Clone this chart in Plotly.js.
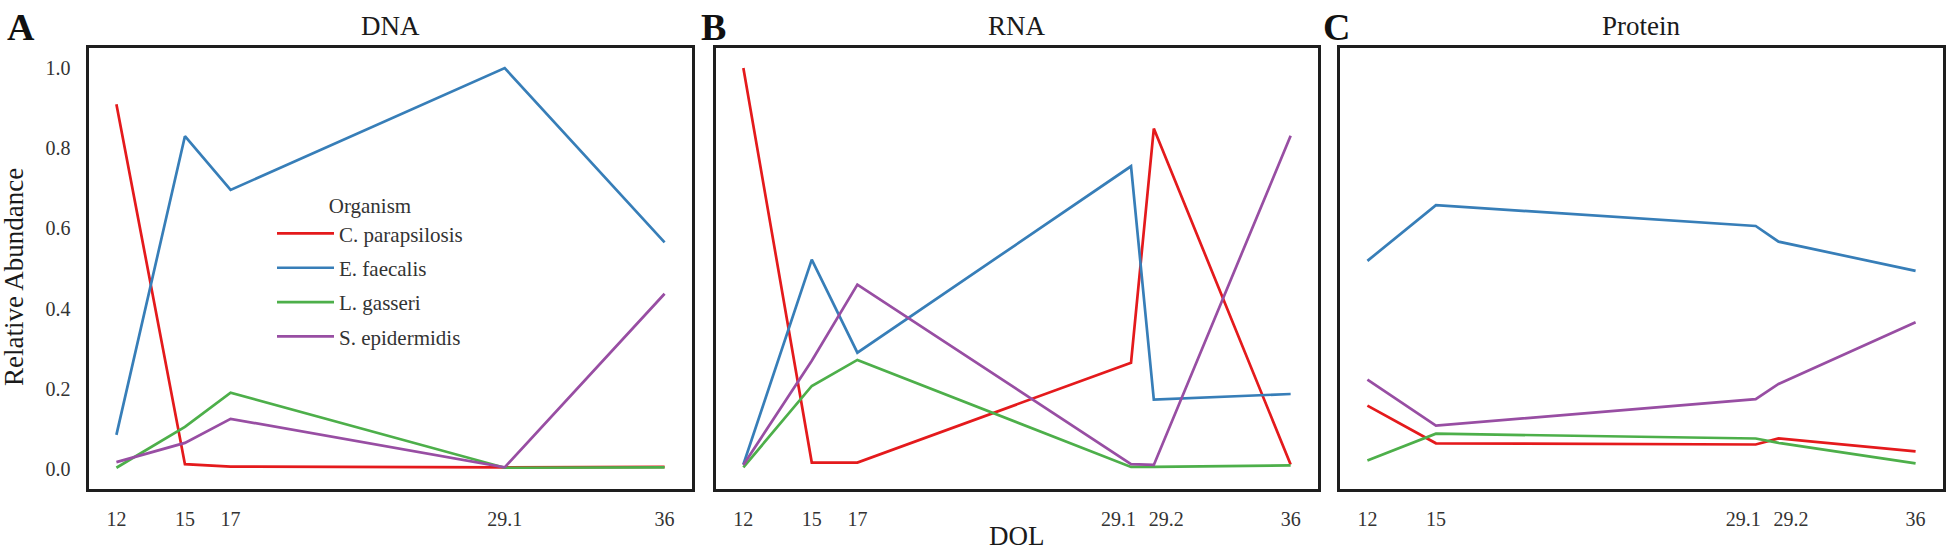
<!DOCTYPE html>
<html>
<head>
<meta charset="utf-8">
<script src="https://cdn.plot.ly/plotly-3.0.1.min.js"></script>
<style>html,body{margin:0;padding:0;background:#fff;}#chart{width:1946px;height:554px;}</style>
</head>
<body>
<div id="chart"></div>
<script>
// ---- data ----
const organisms = ["C. parapsilosis", "E. faecalis", "L. gasseri", "S. epidermidis"];
const colors = ["#e41a1c", "#377eb8", "#4daf4a", "#984ea3"];

// DOL sample labels per panel and their positions along the axis
const NB = "\u00a0\u00a0\u00a0\u00a0\u00a0";
const dnaLabels = ["12", "15", "17", "29.1", "36"];
const dnaPos = [12, 15, 17, 29, 36];
const rnaLabels = ["12", "15", "17", "29.1" + NB, NB + "29.2", "36"];
const rnaPos = [12, 15, 17, 29, 30, 36];
const protLabels = ["12", "15", "29.1" + NB, NB + "29.2", "36"];
const protPos = [12, 15, 29, 30, 36];

// Relative abundance (DNA)
const dnaCpar = [0.91, 0.012, 0.006, 0.004, 0.005];
const dnaEfae = [0.085, 0.83, 0.696, 1.0, 0.565];
const dnaLgas = [0.003, 0.105, 0.19, 0.003, 0.004];
const dnaSepi = [0.017, 0.065, 0.125, 0.004, 0.437];

// Relative abundance (RNA)
const rnaCpar = [1.0, 0.016, 0.016, 0.265, 0.849, 0.011];
const rnaEfae = [0.011, 0.522, 0.29, 0.755, 0.173, 0.187];
const rnaLgas = [0.004, 0.207, 0.272, 0.005, 0.005, 0.009];
const rnaSepi = [0.01, 0.27, 0.46, 0.012, 0.01, 0.831];

// Relative abundance (Protein)
const protCpar = [0.158, 0.064, 0.061, 0.076, 0.044];
const protEfae = [0.519, 0.658, 0.606, 0.567, 0.494];
const protLgas = [0.021, 0.088, 0.076, 0.065, 0.014];
const protSepi = [0.223, 0.108, 0.174, 0.212, 0.366];

const yTicks = [0, 0.2, 0.4, 0.6, 0.8, 1.0];
const yTickText = ["0.0", "0.2", "0.4", "0.6", "0.8", "1.0"];

// ---- build ----
const W = 1946, H = 554;
const px = v => v / W;
const py = v => 1 - v / H;
const FONT = "Liberation Serif";

const panels = [
  {x: dnaPos, series: [dnaCpar, dnaEfae, dnaLgas, dnaSepi], xa: "x", ya: "y"},
  {x: rnaPos, series: [rnaCpar, rnaEfae, rnaLgas, rnaSepi], xa: "x2", ya: "y2"},
  {x: protPos, series: [protCpar, protEfae, protLgas, protSepi], xa: "x3", ya: "y3"}
];

const traces = [];
panels.forEach((p, pi) => {
  p.series.forEach((s, si) => {
    traces.push({
      type: "scatter", mode: "lines",
      x: p.x, y: s, xaxis: p.xa, yaxis: p.ya,
      name: organisms[si], legendgroup: organisms[si],
      showlegend: pi === 0,
      line: {color: colors[si], width: 2.7},
      hoverinfo: "skip"
    });
  });
});

const frame = {showline: true, mirror: true, linecolor: "#1e1e1e", linewidth: 2.6,
  showgrid: false, zeroline: false, ticks: "", fixedrange: true};
const tickFont = {family: FONT, size: 20, color: "#333333"};

function xAxis(dom, pos, labels) {
  return Object.assign({}, frame, {
    domain: dom, range: [10.8, 37.2], tickmode: "array", tickangle: 0,
    tickvals: pos, ticktext: labels, tickfont: tickFont, ticklabelstandoff: 10
  });
}
const yDom = [1 - 489 / H, 1 - 48 / H];
function yAxis(showLabels, anchor) {
  return Object.assign({}, frame, {
    domain: yDom, range: [-0.05, 1.05], anchor: anchor,
    tickmode: "array", tickvals: yTicks, ticktext: yTickText,
    showticklabels: showLabels, tickfont: tickFont, ticklabelstandoff: 12
  });
}

const titleFont = {family: FONT, size: 27, color: "#1a1a1a"};
const letterFont = {family: FONT, size: 38, color: "#111111", weight: "bold"};

const annotations = [
  {text: "<b>A</b>", x: px(5), y: py(4), xanchor: "left", yanchor: "top", font: letterFont},
  {text: "<b>B</b>", x: px(699), y: py(4), xanchor: "left", yanchor: "top", font: letterFont},
  {text: "<b>C</b>", x: px(1321), y: py(4), xanchor: "left", yanchor: "top", font: letterFont},
  {text: "DNA", x: px(390), y: py(26), xanchor: "center", yanchor: "middle", font: titleFont},
  {text: "RNA", x: px(1017), y: py(26), xanchor: "center", yanchor: "middle", font: titleFont},
  {text: "Protein", x: px(1641), y: py(26), xanchor: "center", yanchor: "middle", font: titleFont},
  {text: "DOL", x: px(1017), y: py(553), xanchor: "center", yanchor: "bottom", font: {family: FONT, size: 27, color: "#1a1a1a"}},
  {text: "Relative Abundance", x: px(14), y: py(277), xanchor: "center", yanchor: "middle", textangle: -90,
   font: {family: FONT, size: 27, color: "#1a1a1a"}}
].map(a => Object.assign({xref: "paper", yref: "paper", showarrow: false}, a));

const layout = {
  width: W, height: H,
  margin: {l: 0, r: 0, t: 0, b: 0},
  paper_bgcolor: "#ffffff", plot_bgcolor: "#ffffff",
  font: {family: FONT, color: "#333333"},
  xaxis: xAxis([89 / W, 692 / W], dnaPos, dnaLabels),
  xaxis2: xAxis([716 / W, 1318 / W], rnaPos, rnaLabels),
  xaxis3: xAxis([1340 / W, 1943 / W], protPos, protLabels),
  yaxis: yAxis(true, "x"),
  yaxis2: yAxis(false, "x2"),
  yaxis3: yAxis(false, "x3"),
  showlegend: true,
  legend: {
    x: px(272), y: py(186), xanchor: "left", yanchor: "top",
    bgcolor: "rgba(0,0,0,0)", borderwidth: 0,
    font: {family: FONT, size: 21, color: "#333333"},
    title: {text: "Organism", side: "top center", font: {family: FONT, size: 21, color: "#333333"}},
    traceorder: "grouped", tracegroupgap: 4, itemwidth: 57
  },
  annotations: annotations
};

Plotly.newPlot("chart", traces, layout, {displayModeBar: false, staticPlot: true});
</script>
</body>
</html>
